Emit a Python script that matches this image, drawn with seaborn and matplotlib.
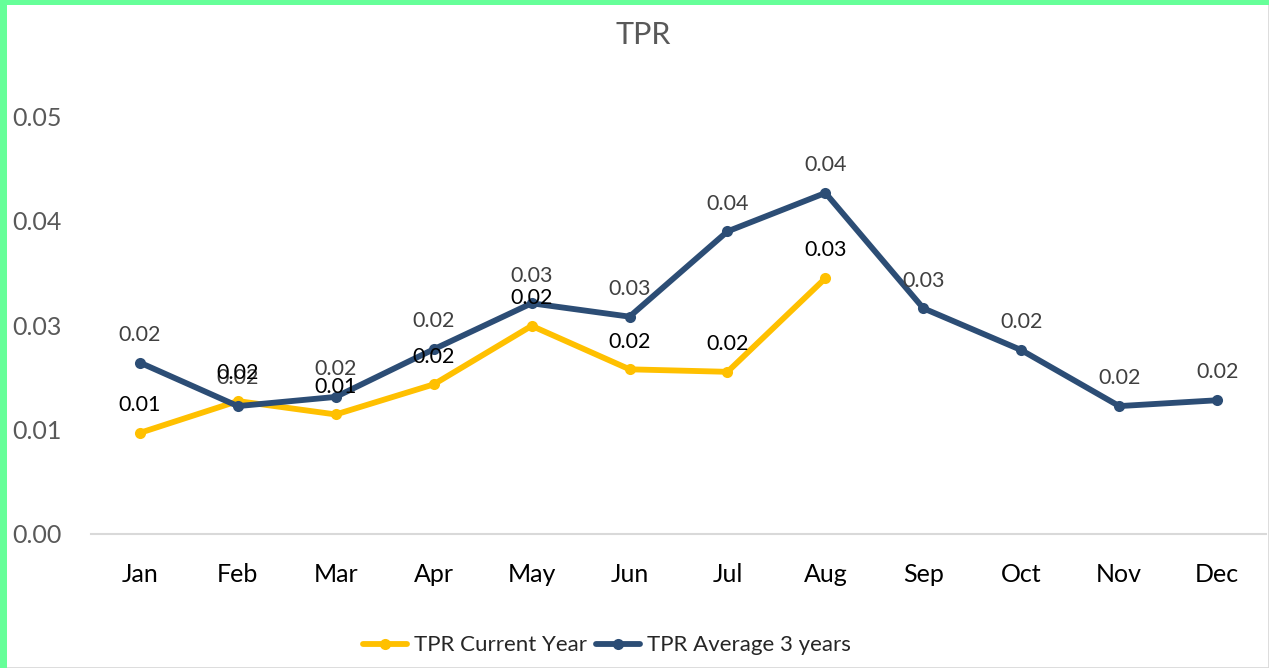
import numpy as np
import pandas as pd
import matplotlib.pyplot as plt
import seaborn as sns
from matplotlib.patches import Rectangle

# chart data
months = ["Jan", "Feb", "Mar", "Apr", "May", "Jun", "Jul", "Aug", "Sep", "Oct", "Nov", "Dec"]
current_year = [0.0121, 0.0159, 0.0143, 0.0179, 0.0249, 0.0197, 0.0194, 0.0306,
                np.nan, np.nan, np.nan, np.nan]
avg_3_years = [0.0205, 0.0153, 0.0164, 0.0221, 0.0276, 0.0260, 0.0362, 0.0408,
               0.0270, 0.0220, 0.0153, 0.0160]
y_ticks = [0, 0.0125, 0.025, 0.0375, 0.05]
y_tick_labels = ["0.00", "0.01", "0.03", "0.04", "0.05"]
series_names = ["TPR Current Year", "TPR Average 3 years"]

df = pd.DataFrame({
    "month": months * 2,
    "value": current_year + avg_3_years,
    "series": [series_names[0]] * 12 + [series_names[1]] * 12,
})

sns.set_theme(style="white")
plt.rcParams["font.family"] = ["Lato", "DejaVu Sans"]

palette = {series_names[0]: "#FFC000", series_names[1]: "#2C4D75"}

fig = plt.figure(figsize=(12.69, 6.68), dpi=100)
ax = fig.add_axes([0.0717, 0.2006, 0.9260, 0.6257])

sns.lineplot(data=df, x="month", y="value", hue="series", palette=palette,
             marker="o", markersize=8, markeredgewidth=0, linewidth=4.2,
             sort=False, legend=True, ax=ax)

ax.set_xlim(-0.5, 11.5)
ax.set_ylim(0, 0.05)
ax.set_yticks(y_ticks)
ax.set_yticklabels(y_tick_labels)
ax.set_xlabel("")
ax.set_ylabel("")

for s in ["top", "right", "left"]:
    ax.spines[s].set_visible(False)
ax.spines["bottom"].set_color("#D9D9D9")
ax.spines["bottom"].set_linewidth(1.5)

# y labels sit at the far left of the figure, left aligned
ax.tick_params(axis="y", length=0, labelsize=18, labelcolor="#595959", pad=57)
for lbl in ax.get_yticklabels():
    lbl.set_horizontalalignment("left")
ax.tick_params(axis="x", which="major", length=0, labelsize=18, labelcolor="black", pad=21)
ax.set_xticks(np.arange(-0.5, 12, 1.0), minor=True)
ax.tick_params(axis="x", which="minor", length=8, width=1.5, color="#D9D9D9", direction="out")

# data labels
for i, v in enumerate(avg_3_years):
    ax.annotate(f"{v:.2f}", (i, v), xytext=(0, 20), textcoords="offset points",
                ha="center", va="center", fontsize=15.5, color="#404040")
for i, v in enumerate(current_year):
    if np.isnan(v):
        continue
    ax.annotate(f"{v:.2f}", (i, v), xytext=(0, 20), textcoords="offset points",
                ha="center", va="center", fontsize=15.5, color="black")

handles, labels = ax.get_legend_handles_labels()
ax.legend_.remove()
fig.legend(handles, labels, loc="center", bbox_to_anchor=(0.478, 0.034), ncol=2,
           frameon=False, fontsize=16, handlelength=2.0, handletextpad=0.3,
           columnspacing=0.4)

fig.text(0.507, 0.948, "TPR", ha="center", va="center", fontsize=22, color="#595959")

# green frame like the original export
fig.patches.append(Rectangle((0, 0), 1, 1, transform=fig.transFigure, fill=False,
                             edgecolor="#D9D9D9", linewidth=2))
fig.patches.append(Rectangle((0, 0), 7 / 1269, 1, transform=fig.transFigure,
                             facecolor="#66FF99", edgecolor="none"))
fig.patches.append(Rectangle((0, 1 - 5 / 668), 1, 5 / 668, transform=fig.transFigure,
                             facecolor="#66FF99", edgecolor="none"))

fig.savefig("out.png", dpi=100)
